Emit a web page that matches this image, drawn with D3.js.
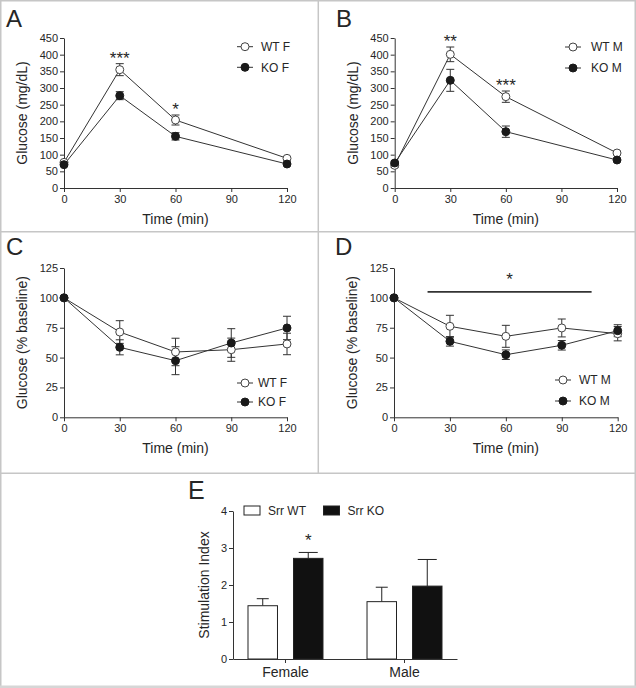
<!DOCTYPE html>
<html><head><meta charset="utf-8">
<script src="https://cdn.jsdelivr.net/npm/d3@7"></script>
<style>
body{margin:0;background:#fff}
svg{display:block}
text{font-family:"Liberation Sans",Arial,Helvetica,sans-serif;fill:#262626}
</style>
</head><body>
<svg id="chart" width="636" height="688"></svg>
<script>
// ---------- DATA ----------
const gttTimes = [0, 30, 60, 120];
const ittTimes = [0, 30, 60, 90, 120];
const timeTicks = [0, 30, 60, 90, 120];
const gttTicks = [0, 50, 100, 150, 200, 250, 300, 350, 400, 450];
const ittTicks = [0, 25, 50, 75, 100, 125];

// Panel A (female GTT, mg/dL)
const gttWtF = [77, 355, 204, 89];
const gttWtFErr = [5, 18, 15, 5];
const gttKoF = [70, 277, 155, 72];
const gttKoFErr = [4, 12, 11, 3];
const starsA = [{t: 30, label: "***"}, {t: 60, label: "*"}];

// Panel B (male GTT, mg/dL)
const gttWtM = [68, 401, 274, 105];
const gttWtMErr = [6, 22, 17, 5];
const gttKoM = [75, 323, 169, 84];
const gttKoMErr = [5, 33, 17, 4];
const starsB = [{t: 30, label: "**"}, {t: 60, label: "***"}];

// Panel C (female ITT, % baseline)
const ittWtF = [100, 71.4, 54.7, 56.6, 61.4];
const ittWtFErr = [0, 9.5, 11.5, 9.7, 9];
const ittKoF = [100, 58.6, 47.4, 62.2, 74.8];
const ittKoFErr = [0, 6.3, 11.7, 12, 9.8];

// Panel D (male ITT, % baseline)
const ittWtM = [100, 76.2, 67.8, 74.8, 70];
const ittWtMErr = [0, 9.2, 9.2, 7.5, 6];
const ittKoM = [100, 63.6, 52.4, 60.3, 72.5];
const ittKoMErr = [0, 4, 4, 4, 5];
const bracketD = {from: 18, to: 106, level: 105, label: "*"};

// Panel E (stimulation index)
const sexes = ["Female", "Male"];
const genotypes = ["Srr WT", "Srr KO"];
const siWT = [1.44, 1.55];
const siWTErr = [0.19, 0.39];
const siKO = [2.72, 1.97];
const siKOErr = [0.16, 0.72];
const siTicks = [0, 1, 2, 3, 4];
const starsE = [{sex: "Female", label: "*"}];

// ---------- DRAWING ----------
const svg = d3.select("#chart");
const INK = "#333";
const FRAME = "#c6c6c6";

svg.append("rect").attr("width", 636).attr("height", 688).attr("fill", "#fff");

// frame
const fr = svg.append("g").attr("stroke", FRAME).attr("stroke-width", 1.5).attr("fill", "none");
fr.append("line").attr("x1", 0).attr("x2", 636).attr("y1", 0.75).attr("y2", 0.75);
fr.append("line").attr("x1", 0.75).attr("x2", 0.75).attr("y1", 0).attr("y2", 688);
fr.append("line").attr("x1", 635.25).attr("x2", 635.25).attr("y1", 0).attr("y2", 688);
fr.append("line").attr("x1", 318.3).attr("x2", 318.3).attr("y1", 0).attr("y2", 473.3);
fr.append("line").attr("x1", 0).attr("x2", 636).attr("y1", 231.7).attr("y2", 231.7);
fr.append("line").attr("x1", 0).attr("x2", 636).attr("y1", 473.3).attr("y2", 473.3);
svg.append("rect").attr("x", 0).attr("y", 685.5).attr("width", 636).attr("height", 2.5).attr("fill", "#d6d6d6");

function styleAxis(g, fs) {
  g.attr("color", INK);
  g.selectAll("path.domain").attr("stroke-width", 1);
  g.selectAll("text").attr("font-size", fs).attr("fill", "#262626")
   .attr("font-family", '"Liberation Sans",Arial,sans-serif');
}

function linePanel(o) {
  const x = d3.scaleLinear().domain([0, 120]).range(o.xr);
  const y = d3.scaleLinear().domain([0, o.ymax]).range(o.yr);
  const g = svg.append("g");

  g.append("text").attr("x", o.letterPos[0]).attr("y", o.letterPos[1])
    .attr("font-size", 24).attr("fill", "#111").text(o.letter);

  const ya = g.append("g").attr("transform", `translate(${o.xr[0]},0)`)
    .call(d3.axisLeft(y).tickValues(o.yticks).tickFormat(d3.format("d")).tickSize(4).tickPadding(2).tickSizeOuter(0));
  styleAxis(ya, 11);
  const xa = g.append("g").attr("transform", `translate(0,${o.yr[0]})`)
    .call(d3.axisBottom(x).tickValues(timeTicks).tickFormat(d3.format("d")).tickSize(4).tickPadding(3).tickSizeOuter(0));
  styleAxis(xa, 11);

  g.append("text").attr("transform", `translate(${o.xr[0] - 37},${(o.yr[0] + o.yr[1]) / 2}) rotate(-90)`)
    .attr("text-anchor", "middle").attr("font-size", 14).text(o.ytitle);
  g.append("text").attr("x", (o.xr[0] + o.xr[1]) / 2).attr("y", o.yr[0] + 35.5)
    .attr("text-anchor", "middle").attr("font-size", 14).text("Time (min)");

  const line = d3.line().x(d => x(d.t)).y(d => y(d.v));
  o.series.forEach(s => {
    const pts = s.times.map((t, i) => ({t, v: s.vals[i], e: s.errs[i]}));
    const eb = g.append("g").attr("stroke", INK).attr("stroke-width", 1);
    pts.filter(d => d.e > 0).forEach(d => {
      eb.append("line").attr("x1", x(d.t)).attr("x2", x(d.t)).attr("y1", y(d.v - d.e)).attr("y2", y(d.v + d.e));
      [d.v - d.e, d.v + d.e].forEach(c => eb.append("line")
        .attr("x1", x(d.t) - 4).attr("x2", x(d.t) + 4).attr("y1", y(c)).attr("y2", y(c)));
    });
    s.pts = pts;
  });
  o.series.forEach(s => {
    g.append("path").datum(s.pts).attr("d", line).attr("fill", "none")
      .attr("stroke", INK).attr("stroke-width", 1);
  });
  o.series.forEach(s => {
    g.append("g").selectAll("circle").data(s.pts).join("circle")
      .attr("cx", d => x(d.t)).attr("cy", d => y(d.v)).attr("r", 4)
      .attr("fill", s.open ? "#fff" : "#1a1a1a").attr("stroke", s.open ? "#444" : "#1a1a1a").attr("stroke-width", 1);
  });

  // legend
  o.series.forEach((s, i) => {
    const ly = o.legend.y[i];
    g.append("line").attr("x1", o.legend.cx - 8).attr("x2", o.legend.cx + 8)
      .attr("y1", ly).attr("y2", ly).attr("stroke", INK).attr("stroke-width", 1);
    g.append("circle").attr("cx", o.legend.cx).attr("cy", ly).attr("r", 4)
      .attr("fill", s.open ? "#fff" : "#1a1a1a").attr("stroke", s.open ? "#444" : "#1a1a1a");
    g.append("text").attr("x", o.legend.tx).attr("y", ly + 4.3).attr("font-size", 12).text(s.name);
  });

  // significance stars above the WT error bar
  (o.stars || []).forEach(st => {
    const s = o.series[0];
    const i = s.times.indexOf(st.t);
    const top = y(s.vals[i] + s.errs[i]);
    g.append("text").attr("x", x(st.t)).attr("y", top - 10 + 9.9)
      .attr("text-anchor", "middle").attr("font-size", 17).text(st.label);
  });

  if (o.bracket) {
    const b = o.bracket;
    g.append("line").attr("x1", x(b.from)).attr("x2", x(b.to)).attr("y1", y(b.level)).attr("y2", y(b.level))
      .attr("stroke", "#333").attr("stroke-width", 1.8);
    g.append("text").attr("x", (x(b.from) + x(b.to)) / 2).attr("y", y(b.level) - 17 + 9.9)
      .attr("text-anchor", "middle").attr("font-size", 17).text(b.label);
  }
}

linePanel({
  letter: "A", letterPos: [6, 27.3], xr: [64, 287], yr: [188, 38], ymax: 450, yticks: gttTicks,
  ytitle: "Glucose (mg/dL)",
  series: [
    {name: "WT F", times: gttTimes, vals: gttWtF, errs: gttWtFErr, open: true},
    {name: "KO F", times: gttTimes, vals: gttKoF, errs: gttKoFErr, open: false}
  ],
  legend: {cx: 245, tx: 261, y: [46.7, 67.3]},
  stars: starsA
});
linePanel({
  letter: "B", letterPos: [336, 27.3], xr: [394.7, 617], yr: [188, 38], ymax: 450, yticks: gttTicks,
  ytitle: "Glucose (mg/dL)",
  series: [
    {name: "WT M", times: gttTimes, vals: gttWtM, errs: gttWtMErr, open: true},
    {name: "KO M", times: gttTimes, vals: gttKoM, errs: gttKoMErr, open: false}
  ],
  legend: {cx: 573, tx: 591, y: [47, 68]},
  stars: starsB
});
linePanel({
  letter: "C", letterPos: [6, 255.3], xr: [64, 287], yr: [417.3, 268], ymax: 125, yticks: ittTicks,
  ytitle: "Glucose (% baseline)",
  series: [
    {name: "WT F", times: ittTimes, vals: ittWtF, errs: ittWtFErr, open: true},
    {name: "KO F", times: ittTimes, vals: ittKoF, errs: ittKoFErr, open: false}
  ],
  legend: {cx: 245, tx: 258, y: [383, 402]}
});
linePanel({
  letter: "D", letterPos: [335, 255.3], xr: [394, 617.7], yr: [417.3, 268], ymax: 125, yticks: ittTicks,
  ytitle: "Glucose (% baseline)",
  series: [
    {name: "WT M", times: ittTimes, vals: ittWtM, errs: ittWtMErr, open: true},
    {name: "KO M", times: ittTimes, vals: ittKoM, errs: ittKoMErr, open: false}
  ],
  legend: {cx: 563, tx: 579, y: [380, 401]},
  bracket: bracketD
});

// ---------- Panel E ----------
(function () {
  const g = svg.append("g");
  const y = d3.scaleLinear().domain([0, 4]).range([659, 511]);
  const x0 = d3.scaleBand().domain(sexes).range([233, 457]).paddingInner(0.37).paddingOuter(0.126);
  const x1 = d3.scaleBand().domain(genotypes).range([0, x0.bandwidth()]).paddingInner(0.352);
  const vals = {"Srr WT": siWT, "Srr KO": siKO};
  const errs = {"Srr WT": siWTErr, "Srr KO": siKOErr};
  const fills = {"Srr WT": "#fff", "Srr KO": "#111"};
  const caps = {"Srr WT": 6, "Srr KO": 9.5};

  g.append("text").attr("x", 188).attr("y", 499).attr("font-size", 25).attr("fill", "#111").text("E");

  sexes.forEach((sx, i) => {
    genotypes.forEach(gt => {
      const v = vals[gt][i], e = errs[gt][i];
      const bx = x0(sx) + x1(gt), cx = bx + x1.bandwidth() / 2;
      g.append("line").attr("x1", cx).attr("x2", cx).attr("y1", y(v)).attr("y2", y(v + e))
        .attr("stroke", "#222").attr("stroke-width", 1);
      g.append("line").attr("x1", cx - caps[gt]).attr("x2", cx + caps[gt]).attr("y1", y(v + e)).attr("y2", y(v + e))
        .attr("stroke", "#222").attr("stroke-width", 1);
      g.append("rect").attr("x", bx).attr("y", y(v)).attr("width", x1.bandwidth()).attr("height", y(0) - y(v))
        .attr("fill", fills[gt]).attr("stroke", "#222").attr("stroke-width", 1);
    });
  });

  starsE.forEach(st => {
    const i = sexes.indexOf(st.sex);
    const cx = x0(st.sex) + x1("Srr KO") + x1.bandwidth() / 2;
    g.append("text").attr("x", cx).attr("y", y(siKO[i] + siKOErr[i]) - 16.5 + 9.9)
      .attr("text-anchor", "middle").attr("font-size", 17).text(st.label);
  });

  const ya = g.append("g").attr("transform", "translate(233,0)")
    .call(d3.axisLeft(y).tickValues(siTicks).tickFormat(d3.format("d")).tickSize(4).tickPadding(2).tickSizeOuter(0));
  styleAxis(ya, 11);
  const xa = g.append("g").attr("transform", "translate(0,659)")
    .call(d3.axisBottom(x0).tickSize(4).tickPadding(4).tickSizeOuter(0));
  styleAxis(xa, 14);

  g.append("text").attr("transform", `translate(209,585) rotate(-90)`)
    .attr("text-anchor", "middle").attr("font-size", 14).text("Stimulation Index");

  // legend
  const lx = [244, 323.5];
  genotypes.forEach((gt, i) => {
    g.append("rect").attr("x", lx[i]).attr("y", 506).attr("width", 16).attr("height", 9)
      .attr("fill", fills[gt]).attr("stroke", "#222").attr("stroke-width", 1);
    g.append("text").attr("x", lx[i] + 24).attr("y", 515).attr("font-size", 12).text(gt);
  });
})();
</script>
</body></html>
